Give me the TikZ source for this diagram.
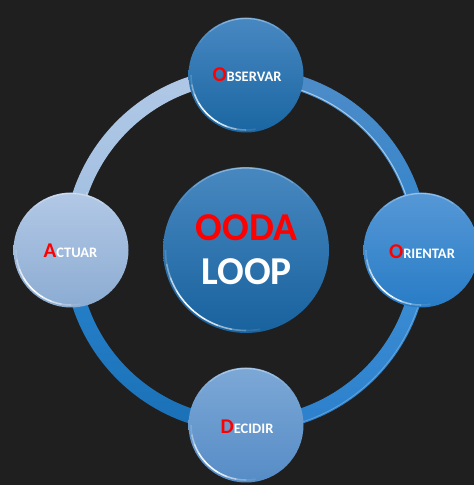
\documentclass[tikz,border=0pt]{standalone}
\usepackage{fontspec}
\setmainfont{Carlito}
\begin{document}
\begin{tikzpicture}[x=1pt,y=1pt,
  lbl/.style={text=white,font=\bfseries,inner sep=0pt,anchor=center},
  big/.style={text=white,font=\bfseries\fontsize{39.5}{40}\selectfont,inner sep=0pt,anchor=center}]
\definecolor{bg}{RGB}{31,31,31}
\definecolor{ored}{RGB}{255,0,0}
\definecolor{obsTop}{RGB}{72,136,194}
\definecolor{obsBot}{RGB}{26,102,162}
\definecolor{oriTop}{RGB}{86,152,214}
\definecolor{oriBot}{RGB}{40,124,198}
\definecolor{decTop}{RGB}{124,168,214}
\definecolor{decBot}{RGB}{86,140,198}
\definecolor{actTop}{RGB}{178,200,230}
\definecolor{actBot}{RGB}{140,172,210}
\definecolor{cenTop}{RGB}{72,136,192}
\definecolor{cenBot}{RGB}{24,98,158}
\definecolor{neTop}{RGB}{78,140,200}
\definecolor{neBot}{RGB}{48,132,204}
\definecolor{seTop}{RGB}{62,144,212}
\definecolor{seBot}{RGB}{44,128,204}
\definecolor{swTop}{RGB}{40,132,206}
\definecolor{swBot}{RGB}{26,112,182}
\definecolor{nwTop}{RGB}{176,200,230}
\definecolor{nwBot}{RGB}{160,190,224}

% glossy rim: fading white arc on the lower left, faint light arc on top
\newcommand{\rimglow}[3]{%
  \foreach \a/\o in {180/0.15,190/0.4,200/0.7,210/0.9,220/1,230/0.95,240/0.8,250/0.55,260/0.3,270/0.1}{%
    \draw[white,opacity=\o,line width=1.6pt]
      ([shift={(#1,#2)}]\a:#3-2.5) arc[start angle=\a,end angle=\a+10,radius=#3-2.5];}
  \foreach \a/\o in {40/0.1,55/0.25,70/0.35,85/0.4,100/0.35,115/0.25,130/0.1}{%
    \draw[white,opacity=\o,line width=1.2pt]
      ([shift={(#1,#2)}]\a:#3-1) arc[start angle=\a,end angle=\a+15,radius=#3-1];}
}

\fill[bg] (0,0) rectangle (474,485);
\useasboundingbox (0,0) rectangle (474,485);

\coordinate (C) at (246,235);

% ring, one shaded quarter per leg of the cycle
\begin{scope}[shift={(246,235)}]
  \shade[top color=neTop,bottom color=neBot]
    (90:182.5) arc[start angle=90,end angle=0,radius=182.5]
    -- (0:167.5) arc[start angle=0,end angle=90,radius=167.5] -- cycle;
  \shade[top color=seTop,bottom color=seBot]
    (0:182.5) arc[start angle=0,end angle=-90,radius=182.5]
    -- (-90:167.5) arc[start angle=-90,end angle=0,radius=167.5] -- cycle;
  \shade[top color=swTop,bottom color=swBot]
    (-90:182.5) arc[start angle=-90,end angle=-180,radius=182.5]
    -- (180:167.5) arc[start angle=180,end angle=270,radius=167.5] -- cycle;
  \shade[top color=nwTop,bottom color=nwBot]
    (180:182.5) arc[start angle=180,end angle=90,radius=182.5]
    -- (90:167.5) arc[start angle=90,end angle=180,radius=167.5] -- cycle;
  % light edges along the ring
  \draw[white,opacity=0.55,line width=1pt]
    (80:169) arc[start angle=80,end angle=10,radius=169];
  \draw[white,opacity=0.35,line width=0.8pt]
    (190:169) arc[start angle=190,end angle=160,radius=169];
  \draw[white,opacity=0.25,line width=0.8pt]
    (-10:181) arc[start angle=-10,end angle=-80,radius=181];
\end{scope}

% satellite circles
\shade[top color=obsTop,bottom color=obsBot] (246,410) circle[radius=57.5];
\rimglow{246}{410}{57.5}
\shade[top color=oriTop,bottom color=oriBot] (421,235) circle[radius=57.5];
\rimglow{421}{235}{57.5}
\shade[top color=decTop,bottom color=decBot] (246,60) circle[radius=57.5];
\rimglow{246}{60}{57.5}
\shade[top color=actTop,bottom color=actBot] (71,235) circle[radius=57.5];
\rimglow{71}{235}{57.5}

% central circle
\shade[top color=cenTop,bottom color=cenBot] (C) circle[radius=83];
\rimglow{246}{235}{83}

% labels
\node[lbl] (obs) at (247,410.5)
  {{\fontsize{21}{21}\selectfont\color{ored}O}{\fontsize{14.5}{15}\selectfont BSERVAR}};
\node[lbl] (ori) at (422,233.5)
  {{\fontsize{21}{21}\selectfont\color{ored}O}{\fontsize{14.5}{15}\selectfont RIENTAR}};
\node[lbl] (dec) at (247,58.5)
  {{\fontsize{21}{21}\selectfont\color{ored}D}{\fontsize{14.5}{15}\selectfont ECIDIR}};
\node[lbl] (act) at (70.5,234)
  {{\fontsize{21}{21}\selectfont\color{ored}A}{\fontsize{14.5}{15}\selectfont CTUAR}};

\node[big,text=ored] (ooda) at (246.5,257) {OODA};
\node[big] (loop) at (246.5,213) {LOOP};
\end{tikzpicture}
\end{document}
